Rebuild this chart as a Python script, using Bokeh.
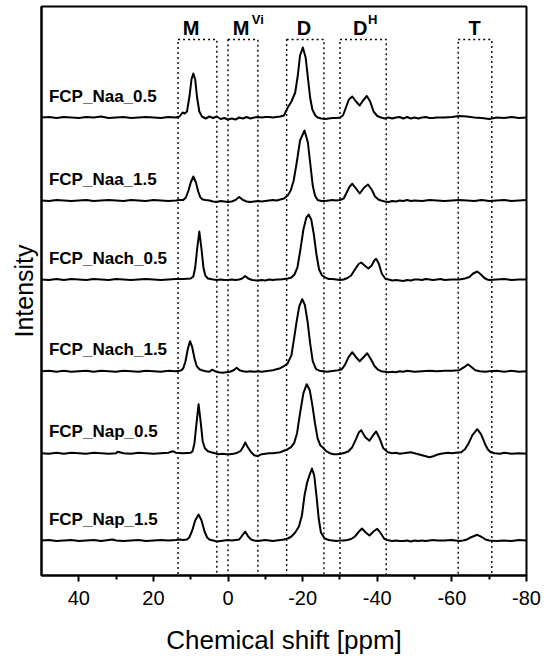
from bokeh.plotting import figure
from bokeh.models import Range1d, FixedTicker, Label
from bokeh.embed import file_html
from bokeh.resources import INLINE

# ---------------- data ----------------
sample_names = ["FCP_Naa_0.5", "FCP_Naa_1.5", "FCP_Nach_0.5",
                "FCP_Nach_1.5", "FCP_Nap_0.5", "FCP_Nap_1.5"]

# (chemical shift [ppm], intensity) pairs for each spectrum
naa05 = [(50,0),(48,0.5),(46,-0.5),(44,0.5),(42,0),(40,-0.5),(38,0.5),(36,0),(34,1),(32,-0.5),
         (30,0),(28,0.5),(26,-0.5),(24,0),(22,0.5),(20,0),(18,-0.5),(16,0.5),(14,0),(13,1),
         (12.2,5),(11.6,4),(11,6),(10.3,22),(9.8,38),(9.3,44),(8.8,38),(8.3,20),(7.7,6),(7,1),
         (6,-1),(5,1),(4,-0.5),(3,1),(2,-1.5),(1,-0.5),(0,-2),(-1,-1),(-2,-2),(-3,0),(-4,-1),
         (-5,0.5),(-6,-1),(-7,0),(-8,0.5),(-9,0),(-10,0.5),(-11,0.5),(-12,0),(-13,0.5),(-14,1),
         (-15,2),(-16,10),(-17,16),(-18,25),(-18.7,42),(-19.3,62),(-20.05,70),(-20.8,60),
         (-21.4,40),(-22,20),(-22.6,8),(-23.4,2),(-24,0),(-25,-1),(-26,-1.5),(-27,-1),
         (-28,-0.5),(-29,-0.5),(-30,0),(-30.8,2),(-31.6,10),(-32.4,18),(-33.3,21),(-34.3,16),
         (-35.3,12),(-36.2,17),(-37.2,21.5),(-38.1,16),(-39,6),(-40,1.5),(-41,0),(-42,-1),
         (-43,0),(-44,-1),(-45,0),(-46,0.5),(-47,-1),(-48,0.5),(-49,-1),(-50,0),(-51,-1),
         (-52,0),(-53,0.5),(-54,-0.5),(-55,-0.5),(-56,0),(-58,0),(-60,0.5),(-62,1.5),(-64,1),
         (-66,0),(-68,-0.5),(-70,-1.5),(-72,0),(-74,-0.5),(-76,0.5),(-78,-0.5),(-80,0)]

naa15 = [(50,0),(48,-0.5),(46,0.5),(44,0),(42,-0.5),(40,0),(38,0.5),(36,-0.5),(34,0),(32,0.5),
         (30,0),(28,-0.5),(26,0.5),(24,0),(22,-0.5),(20,0.5),(18,0),(16,-0.5),(14,0),(13,0.5),
         (12,0.5),(11.3,3),(10.6,10),(10,18),(9.3,24),(8.6,18),(8,9),(7.4,3),(6.8,1),(6,0.5),
         (5,0),(4,-1),(3,-1.5),(2,-0.5),(1,-1),(0,-1.5),(-1,-1),(-2,0.5),(-3,3.5),(-4,0.5),
         (-5,-1),(-6,-1.5),(-7,-1),(-8,-0.5),(-9,-1),(-10,-0.5),(-11,0),(-12,0.5),(-13,0),
         (-14,1),(-15,2),(-16,5),(-16.8,10),(-17.6,20),(-18.5,40),(-19.3,60),(-20.5,70),
         (-21.4,58),(-22.1,35),(-22.7,15),(-23.3,5),(-24,0.5),(-25,-0.5),(-26,-0.5),(-27,0),
         (-28,0.5),(-29,0),(-30,0.5),(-31,2),(-31.8,8),(-32.6,14),(-33.3,16.7),(-34.3,12),
         (-35.3,7),(-36.5,13),(-37.5,16),(-38.5,11),(-39.4,4),(-40.3,1),(-41,0),(-42,-1),
         (-43,-1.5),(-44,-0.5),(-45,-1),(-46,0),(-47,-0.5),(-48,0.5),(-49,-0.5),(-50,0),
         (-52,-0.5),(-54,0.5),(-56,0),(-58,-0.5),(-60,0),(-62,0.5),(-64,0),(-66,-0.5),
         (-68,0.5),(-70,-0.5),(-72,0),(-74,0.5),(-76,-0.5),(-78,0),(-80,0.5)]

nach05 = [(50,0),(48,-0.5),(46,0.5),(44,-0.5),(42,0.5),(40,0),(38,-0.5),(36,0.5),(34,0),
          (32,-0.5),(30,0.5),(28,0),(26,-0.5),(24,0),(22,0.5),(20,0),(18,-0.5),(16,0),(14,0.5),
          (12,0.5),(10,1),(9.3,3),(8.8,12),(8.3,30),(7.7,48),(7.1,30),(6.6,12),(6.1,4),(5.4,1),
          (4,0),(3,-0.5),(2,0),(1,-0.5),(0,-0.5),(-1,0),(-2,-0.5),(-3,0),(-3.8,1),(-4.6,3.5),
          (-5.4,1),(-6.5,-0.5),(-8,-1),(-9,-0.5),(-10,-1),(-11,0),(-12,-0.5),(-13,0),(-14,0),
          (-15,0.5),(-16,1),(-17,2),(-17.8,5),(-18.6,12),(-19.4,30),(-20.2,50),(-21,62),
          (-21.6,65),(-22.3,60),(-23,45),(-23.7,25),(-24.4,10),(-25.2,4),(-26.3,1.5),(-27,0.5),
          (-28,0.5),(-29,0),(-30,-0.5),(-31,0),(-32,1.5),(-33,4),(-34,10),(-35,15.5),
          (-35.7,17),(-36.6,14),(-37.6,11),(-38.5,14),(-39.2,19),(-39.7,20.7),(-40.4,16),
          (-41.2,6),(-42.1,1),(-43,0),(-44,-1),(-45,-0.5),(-46,-1),(-47,-1.5),(-48,-0.5),
          (-49,-1),(-50,0),(-51,0),(-52,-0.5),(-53,0.5),(-54,0),(-55,-0.5),(-56,0),(-57,0.5),
          (-58,-0.5),(-60,0),(-62,0),(-63.5,1),(-64.7,2.5),(-65.7,6),(-66.8,8),(-67.8,5),
          (-68.7,1.5),(-69.5,0),(-70,-0.5),(-72,0),(-74,0.5),(-76,-0.5),(-78,0),(-80,0)]

nach15 = [(50,0),(48,0.5),(46,-0.5),(44,0.5),(42,-0.5),(40,0),(38,0.5),(36,-0.5),(34,0.5),
          (32,0),(30,-0.5),(28,0.5),(26,0),(24,-0.5),(22,0.5),(20,0),(18,-0.5),(16,0.5),(14,0),
          (13,0.5),(12.5,1),(12,3),(11.4,10),(10.8,22),(10.2,30),(9.6,24),(9,13),(8.4,5),
          (7.7,2),(7,1),(6,0),(5,-0.5),(4.3,1.5),(3.5,0),(2.5,-1),(1.5,-1.5),(0.5,-1),
          (-0.5,-0.5),(-1.5,1),(-2.3,3.5),(-3.1,1),(-4,0),(-5,-0.5),(-6,0),(-7,-0.5),(-8,0),
          (-9,-0.5),(-10,0),(-11,0.5),(-12,1),(-13,2),(-14,3),(-15,5),(-16,8),(-17,16),
          (-17.8,35),(-18.4,50),(-19.1,65),(-19.9,72),(-20.6,66),(-21.3,50),(-22,28),
          (-22.7,10),(-23.6,2),(-24.5,0.5),(-25.5,0),(-26.5,-0.5),(-27.5,0),(-28.5,0.5),
          (-29.5,1),(-30.5,2),(-31.3,6),(-32.3,14),(-33.3,19),(-34.3,14),(-35.3,10),(-36.3,14),
          (-37.3,18),(-38.3,12),(-39.3,5),(-40.2,1.5),(-41,0),(-42,-0.5),(-43,-1),(-44,-0.5),
          (-45,-1),(-46,0),(-47,-0.5),(-48,0.5),(-49,0),(-50,-0.5),(-52,0),(-54,0.5),(-56,0),
          (-58,0.5),(-60,0.5),(-62,1),(-63.3,4),(-64.3,7),(-65.3,4),(-66.3,1),(-67.5,0),
          (-69,-0.5),(-70,0),(-72,0.5),(-74,-0.5),(-76,0.5),(-78,-0.5),(-80,0)]

nap05 = [(50,0),(48,-0.5),(46,0.5),(44,-0.5),(42,0.5),(40,0),(38,-0.5),(36,0.5),(34,0),
         (32,-0.5),(30,0),(29.6,1.5),(28,0),(26,-0.5),(24,0.5),(22,0),(20,-0.5),(18,0),
         (16,0.5),(14.8,2),(14,0.5),(12,0),(10,0.5),(9.5,2),(9,10),(8.5,28),(7.9,49),(7.3,30),
         (6.8,12),(6.2,5),(5.4,2),(4.5,1),(3.5,0),(2.5,-1),(1.5,-0.5),(0.5,-1),(-0.5,-1),
         (-1.5,-0.5),(-2.5,0.5),(-3.3,2),(-4,6),(-4.6,10.7),(-5.3,6),(-6.2,1),(-7,-2),(-8,-3),
         (-9,-1),(-10,-0.5),(-11,0),(-12,0),(-13,0.5),(-14,1),(-15,2.5),(-16,4),(-16.9,6),
         (-17.7,10),(-18.5,20),(-19.3,40),(-20.2,60),(-21.1,69),(-21.9,63),(-22.6,48),
         (-23.3,30),(-24,15),(-24.7,8),(-25.4,5.7),(-26.3,2),(-27.3,0),(-28.3,-1),(-29.3,-1),
         (-30.3,-0.5),(-31.3,0.5),(-32.3,2),(-33.3,6),(-34.3,14),(-35.1,21),(-35.7,23),
         (-36.8,16),(-37.9,12.4),(-38.9,18),(-39.7,21.7),(-40.6,15),(-41.6,5),(-42.9,1),
         (-44,0),(-45,0.5),(-46,-0.5),(-47,0),(-48,0.5),(-49,1),(-50,0),(-51,-1),(-52,-2),
         (-53,-3),(-54,-4),(-55,-3),(-56,-1.5),(-57,-0.5),(-58,0),(-59,0.5),(-60,0),(-61,0.5),
         (-62.5,1),(-63.5,4),(-64.5,10),(-65.5,18),(-66.8,24),(-67.8,19),(-68.8,10),(-69.6,4),
         (-70.4,1),(-71.5,0),(-73,-0.5),(-74,0.5),(-76,-0.5),(-78,0),(-80,-0.5)]

nap15 = [(50,0),(48,0.5),(46,-0.5),(44,0),(42,0.5),(40,-0.5),(38,0),(36,0.5),(34,-0.5),
         (32,0.5),(31,1),(30,0),(28,-0.5),(26,0),(24,0.5),(22,-0.5),(20,0),(18,0.5),(16,0),
         (14,0.5),(13,1),(12,0.5),(11,1),(10.4,3),(9.6,10),(8.8,20),(7.9,26),(7.1,20),(6.3,9),
         (5.6,3),(5,1),(4,0),(3,-1),(2,-0.5),(1,0),(0,0.5),(-1,0),(-2,0.5),(-3,1),(-3.6,4),
         (-4.6,9),(-5.4,4),(-6.2,1),(-7,0),(-8,-0.5),(-9,0),(-10,0.5),(-11,0),(-12,-0.5),
         (-13,0),(-14,0.5),(-15,1),(-16,2),(-17,4),(-18,8),(-19,14),(-19.8,25),(-20.5,45),
         (-21.2,58),(-21.9,66),(-22.5,72),(-23.1,65),(-23.7,45),(-24.3,22),(-24.9,8),
         (-25.9,2),(-27,0.5),(-28,0),(-29,-0.5),(-30,0),(-31,0),(-32,0.5),(-33,1.5),(-34,4),
         (-35.1,9),(-35.9,12),(-36.9,8),(-37.9,5),(-39,9),(-40,11.7),(-41,7),(-41.8,2),
         (-42.6,0.5),(-44,-0.5),(-45,0),(-46,-0.5),(-47,-0.5),(-48,0),(-49,-1),(-50,0),
         (-51,-0.5),(-52,0),(-53,-0.5),(-54,0),(-55,0.5),(-56,0),(-58,0),(-60,0.5),(-62,-0.5),
         (-63,0),(-64,1),(-65,3),(-66.8,5.7),(-68,3.5),(-69,1),(-70,0),(-72,-0.5),(-74,0),
         (-76,-0.5),(-78,0.5),(-80,0)]

spectra = [naa05, naa15, nach05, nach15, nap05, nap15]

# vertical stacking offset of each spectrum
stack_offsets = [458, 375, 296, 204.3, 122.3, 35]

# structural-unit regions (ppm limits) and their labels
region_letters = ["M", "M", "D", "D", "T"]
region_sups = ["", "Vi", "", "H", ""]
region_from = [13.4, 0.0, -15.7, -30.0, -61.7]
region_to = [3.0, -8.0, -25.7, -42.4, -70.7]

x_major_ticks = [40, 20, 0, -20, -40, -60, -80]
x_minor_ticks = [30, 10, -10, -30, -50, -70]

# ---------------- figure ----------------
FONT = "Liberation Sans"

p = figure(width=542, height=663, output_backend="svg", toolbar_location=None,
           x_range=Range1d(50, -80), y_range=Range1d(0, 569),
           min_border_left=41, min_border_right=16, min_border_top=6,
           min_border_bottom=88)
p.grid.visible = False
p.background_fill_color = "white"
p.border_fill_color = "white"
p.outline_line_color = "black"
p.outline_line_width = 2

# x axis
p.xaxis.ticker = FixedTicker(ticks=x_major_ticks, minor_ticks=x_minor_ticks)
p.xaxis.major_label_overrides = {t: str(t) for t in x_major_ticks}
p.xaxis.axis_label = "Chemical shift [ppm]"
p.xaxis.axis_label_text_font = FONT
p.xaxis.axis_label_text_font_style = "normal"
p.xaxis.axis_label_text_font_size = "26px"
p.xaxis.axis_label_text_color = "black"
p.xaxis.axis_label_standoff = 17
p.xaxis.major_label_text_font = FONT
p.xaxis.major_label_text_font_size = "20px"
p.xaxis.major_label_text_color = "black"
p.xaxis.major_label_standoff = 9
p.xaxis.axis_line_width = 2
p.xaxis.axis_line_color = "black"
p.xaxis.major_tick_line_color = "black"
p.xaxis.minor_tick_line_color = "black"
p.xaxis.major_tick_line_width = 2
p.xaxis.minor_tick_line_width = 2
p.xaxis.major_tick_in = 0
p.xaxis.major_tick_out = 6
p.xaxis.minor_tick_in = 0
p.xaxis.minor_tick_out = 4

# y axis: label only
p.yaxis.ticker = FixedTicker(ticks=[])
p.yaxis.axis_label = "Intensity"
p.yaxis.axis_label_text_font = FONT
p.yaxis.axis_label_text_font_style = "normal"
p.yaxis.axis_label_text_font_size = "25px"
p.yaxis.axis_label_text_color = "black"
p.yaxis.axis_label_standoff = 4
p.yaxis.major_tick_out = 0
p.yaxis.major_tick_in = 0
p.yaxis.minor_tick_out = 0
p.yaxis.minor_tick_in = 0
p.yaxis.axis_line_width = 2
p.yaxis.axis_line_color = "black"

# dotted region boxes (bottom edge lies on the x axis)
box_top = 536
p.quad(left=region_from, right=region_to, bottom=[0] * len(region_from),
       top=[box_top] * len(region_from), fill_alpha=0, line_color="black",
       line_width=1.4, line_dash="2 3")

# spectra
for name, spec, off in zip(sample_names, spectra, stack_offsets):
    xs = [pt[0] for pt in spec]
    ys = [pt[1] + off for pt in spec]
    p.line(xs, ys, line_color="black", line_width=2, line_join="round")
    p.add_layout(Label(x=48.0, y=off + 21.5, text=name, text_font=FONT,
                       text_font_style="bold", text_font_size="17px",
                       text_align="left", text_baseline="alphabetic",
                       text_color="black"))

# region labels
main_x = [9.9, -3.5, -20.35, -35.4, -66.1]
sup_x = [None, -6.36, None, -37.5, None]
for letter, sup, mx, sx in zip(region_letters, region_sups, main_x, sup_x):
    p.add_layout(Label(x=mx, y=547.5, text=letter, text_font=FONT,
                       text_font_style="bold", text_font_size="20px",
                       text_align="center", text_baseline="alphabetic",
                       text_color="black"))
    if sup:
        p.add_layout(Label(x=sx, y=556, text=sup, text_font=FONT,
                           text_font_style="bold", text_font_size="13px",
                           text_align="left", text_baseline="alphabetic",
                           text_color="black"))

open("out.html", "w").write(file_html(p, INLINE))
